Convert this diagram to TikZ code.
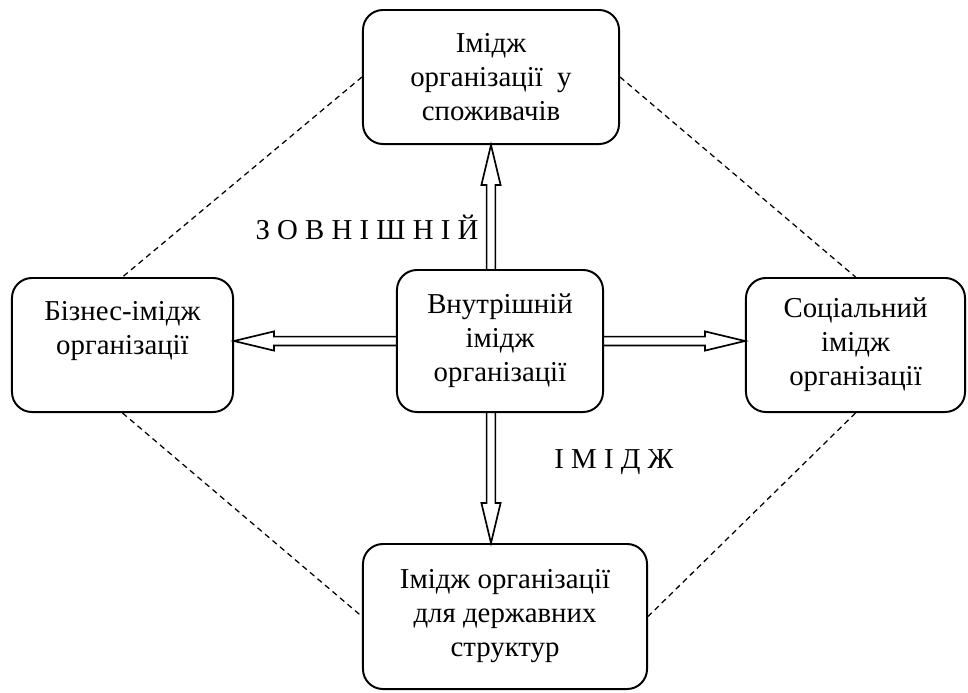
\documentclass[tikz,border=0pt]{standalone}
\usepackage{fontspec}
\setmainfont{Liberation Serif}
\usetikzlibrary{calc}

\begin{document}
\begin{tikzpicture}[x=0.025cm, y=-0.025cm,
    every node/.style={font=\fontsize{20.5}{24.2}\selectfont},
    imgbox/.style={draw, line width=1.4pt, rounded corners=0.5cm, align=center, inner sep=0pt},
    tie/.style={line width=0.9pt, dash pattern=on 4pt off 3pt},
    blockarrow/.style={line width=1.2pt, line join=miter, to path={
        ($(\tikztostart)!0.11cm!90:(\tikztotarget)$)
        -- ($(\tikztotarget)!1cm!(\tikztostart)!0.11cm!-90:(\tikztostart)$)
        -- ($(\tikztotarget)!1cm!(\tikztostart)!0.24cm!-90:(\tikztostart)$)
        -- (\tikztotarget)
        -- ($(\tikztotarget)!1cm!(\tikztostart)!0.24cm!90:(\tikztostart)$)
        -- ($(\tikztotarget)!1cm!(\tikztostart)!0.11cm!90:(\tikztostart)$)
        -- ($(\tikztostart)!0.11cm!-90:(\tikztotarget)$)}}]
    \useasboundingbox (0,0) rectangle (968,692);

    % boxes
    \node[imgbox, minimum width=6.4cm, minimum height=3.35cm] (t) at (491,77) {Імідж\\організації\ \ у\\споживачів};
    \node[imgbox, minimum width=5.15cm, minimum height=3.55cm] (c) at (500,341) {Внутрішній\\імідж\\організації};
    \node[imgbox, minimum width=5.525cm, minimum height=3.35cm] (l) at (122.5,345) {Бізнес-імідж\\організації\\\mbox{}};
    \node[imgbox, minimum width=5.475cm, minimum height=3.35cm] (r) at (855.5,345) {Соціальний\\імідж\\організації};
    \node[imgbox, minimum width=7.1cm, minimum height=3.625cm] (b) at (505,616.5) {Імідж організації\\для державних\\структур};

    \node (zv) at (367,227) {З О В Н І Ш Н І Й};
    \node (im) at (614,462) {І М І Д Ж};

    % dashed ties
    \draw[tie] (t.west) -- (l.north);
    \draw[tie] (t.east) -- (r.north);
    \draw[tie] (l.south) -- (b.west);
    \draw[tie] (r.south) -- (b.east);

    % arrows
    \draw[blockarrow] (c.north -| t.south) to (t.south);
    \draw[blockarrow] (c.south -| t.south) to (b.north -| t.south);
    \draw[blockarrow] (c.west) to (l.east |- c.west);
    \draw[blockarrow] (c.east) to (r.west |- c.east);
\end{tikzpicture}
\end{document}
